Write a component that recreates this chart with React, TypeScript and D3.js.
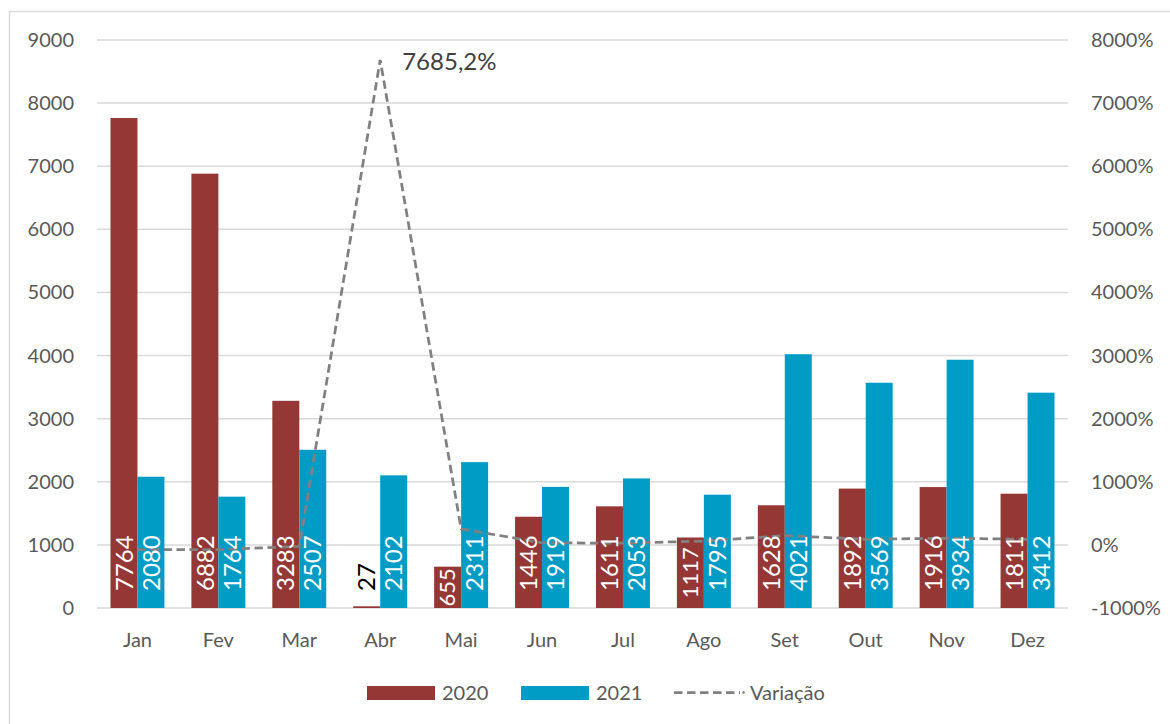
import React from "react";
import * as d3 from "d3";

const months = ["Jan", "Fev", "Mar", "Abr", "Mai", "Jun", "Jul", "Ago", "Set", "Out", "Nov", "Dez"];
const values2020 = [7764, 6882, 3283, 27, 655, 1446, 1611, 1117, 1628, 1892, 1916, 1811];
const values2021 = [2080, 1764, 2507, 2102, 2311, 1919, 2053, 1795, 4021, 3569, 3934, 3412];
const variation = [-73.2, -74.4, -23.6, 7685.2, 252.8, 32.7, 27.4, 60.7, 147.0, 88.6, 105.3, 88.4];
const leftTicks = [0, 1000, 2000, 3000, 4000, 5000, 6000, 7000, 8000, 9000];
const rightTicks = [-1000, 0, 1000, 2000, 3000, 4000, 5000, 6000, 7000, 8000];
const seriesNames = ["2020", "2021"];
const peakLabel = "7685,2%";

const W = 1170;
const H = 724;
const FONT = "Lato, 'Open Sans', sans-serif";
const RED = "#953735";
const BLUE = "#009CC6";
const GRID = "#D9D9D9";
const TXT = "#595959";

export default function App() {
  const left = 97, right = 1068, top = 40, bottom = 608;
  const x = d3.scaleBand<string>().domain(months).range([left, right]).padding(0);
  const xs = d3.scaleBand<string>().domain(seriesNames).range([0, x.bandwidth()]).paddingInner(0).paddingOuter(0.5);
  const yL = d3.scaleLinear().domain([0, 9000]).range([bottom, top]);
  const yR = d3.scaleLinear().domain([-1000, 8000]).range([bottom, top]);
  const line = d3.line<number>()
    .x((_, i) => (x(months[i]) as number) + x.bandwidth() / 2)
    .y((d) => yR(d));
  const series = [values2020, values2021];
  const colors = [RED, BLUE];
  const peakIdx = variation.indexOf(d3.max(variation) as number);
  const px = (x(months[peakIdx]) as number) + x.bandwidth() / 2;
  const py = yR(variation[peakIdx]);

  return (
    <svg width={W} height={H} style={{ position: "absolute", left: 0, top: 0, background: "#fff" }} fontFamily={FONT}>
      <rect x={9.5} y={11.5} width={W} height={H} fill="#fff" stroke={GRID} strokeWidth={1.5} />
      {leftTicks.map((t) => (
        <line key={"g" + t} x1={left} x2={right} y1={yL(t)} y2={yL(t)} stroke={GRID} strokeWidth={1.5} />
      ))}
      {leftTicks.map((t) => (
        <text key={"l" + t} x={74} y={yL(t) + 7} textAnchor="end" fontSize={20} fill={TXT}>{t}</text>
      ))}
      {rightTicks.map((t) => (
        <text key={"r" + t} x={1091} y={yR(t) + 7} textAnchor="start" fontSize={20} fill={TXT}>{t + "%"}</text>
      ))}
      {months.map((m) => (
        <text key={"m" + m} x={(x(m) as number) + x.bandwidth() / 2} y={647} textAnchor="middle" fontSize={20} fill={TXT}>{m}</text>
      ))}
      {series.map((vals, si) =>
        vals.map((v, i) => {
          const bx = (x(months[i]) as number) + (xs(seriesNames[si]) as number);
          return (
            <rect key={"b" + si + "-" + i} x={bx} y={yL(v)} width={xs.bandwidth()} height={bottom - yL(v)} fill={colors[si]} />
          );
        })
      )}
      <path d={line(variation) as string} fill="none" stroke="#808080" strokeWidth={2.75} strokeDasharray="8.5,4.5" />
      {series.map((vals, si) =>
        vals.map((v, i) => {
          const cx = (x(months[i]) as number) + (xs(seriesNames[si]) as number) + xs.bandwidth() / 2;
          const h = bottom - yL(v);
          const textLen = String(v).length * 14 + 4;
          if (h < 20) {
            return (
              <text key={"t" + si + "-" + i} transform={`translate(${cx},${591}) rotate(-90)`} dy="0.36em" fontSize={24}
                fill="#000" textAnchor="start">{v}</text>
            );
          }
          if (h < textLen + 17) {
            const cy = (yL(v) + bottom) / 2;
            return (
              <text key={"t" + si + "-" + i} transform={`translate(${cx},${cy}) rotate(-90)`} dy="0.34em" fontSize={22}
                fill="#fff" textAnchor="middle">{v}</text>
            );
          }
          return (
            <text key={"t" + si + "-" + i} transform={`translate(${cx},${591}) rotate(-90)`} dy="0.36em" fontSize={24}
              fill="#fff" textAnchor="start">{v}</text>
          );
        })
      )}
      <text x={px + 22} y={py + 10} fontSize={24} fill="#404040">{peakLabel}</text>
      <g fontSize={20} fill={TXT}>
        <rect x={367} y={686} width={68} height={14} fill={RED} />
        <text x={442} y={700}>2020</text>
        <rect x={521} y={686} width={68} height={14} fill={BLUE} />
        <text x={596} y={700}>2021</text>
        <line x1={674} x2={740} y1={692.5} y2={692.5} stroke="#808080" strokeWidth={2.75} strokeDasharray="8.5,4.5" />
        <circle cx={743.5} cy={692.5} r={1.3} fill="#808080" />
        <text x={750} y={700}>Variação</text>
      </g>
    </svg>
  );
}
